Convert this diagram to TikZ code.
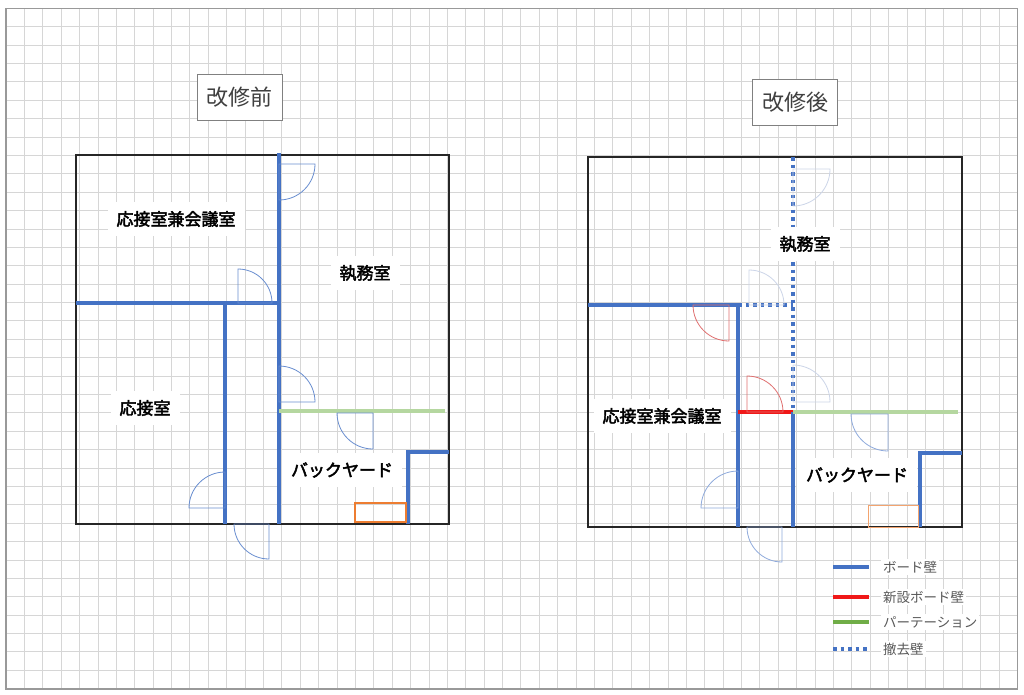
\documentclass[tikz,border=0pt]{standalone}
\usepackage{fontspec}
\newfontfamily\jp{Noto Sans CJK JP}
\newfontfamily\jpbold{Noto Sans CJK JP}[FakeBold=2.6]
\usetikzlibrary{positioning}
\definecolor{board}{HTML}{4472C4}
\definecolor{newboard}{HTML}{F01818}
\definecolor{part}{HTML}{B5D7A0}
\definecolor{partleg}{HTML}{70AD47}
\definecolor{shelf}{HTML}{ED7D31}
\definecolor{doorblue}{HTML}{8FAADC}
\definecolor{doorfaint}{HTML}{CCD5E8}
\definecolor{doorred}{HTML}{E07070}
\definecolor{gridgray}{HTML}{D6D6D6}
\definecolor{textgray}{HTML}{595959}

\newcommand\drawdoor[5][]{\draw[door,#1] (#2) -- ++(#3:#5) arc[start angle=#3, end angle=#4, radius=#5] -- cycle;}

\begin{document}
\begin{tikzpicture}[x=1pt,y=-1pt,
    gridline/.style={gridgray, line width=0.8pt},
    frame/.style={draw=gray!80, line width=1.2pt},
    outer/.style={draw=black!85, line width=2pt},
    wall/.style={board, line width=3.5pt},
    removed/.style={board, line width=3.5pt, dash pattern=on 3.5pt off 4pt},
    newwall/.style={newboard, line width=4pt},
    partition/.style={part, line width=4pt},
    door/.style={board!80, line width=0.8pt},
    room/.style={fill=white, inner sep=9pt, font=\jpbold\fontsize{17}{17}\selectfont},
    title/.style={draw=gray, fill=white, line width=0.8pt, text=black!75,
      minimum width=85pt, minimum height=46pt, inner sep=0pt,
      font=\jp\fontsize{22}{22}\selectfont},
    legtext/.style={fill=white, inner sep=2pt, text=textgray,
      font=\jp\fontsize{13.5}{13.5}\selectfont, anchor=west}]
\useasboundingbox (0,0) rectangle (1024,694);
\fill[white] (0,0) rectangle (1024,694);
% grid paper
\foreach \i in {1,...,54}
  \draw[gridline] ({6+18.387*\i},8.3) -- ({6+18.387*\i},689);
\foreach \j in {1,...,36}
  \draw[gridline] (6,{8.3+18.387*\j}) -- (1017.3,{8.3+18.387*\j});
\draw[frame] (6,8.3) rectangle (1017.3,689);

% before
\node[title] (before) at (239.5,97) {改修前};
\draw[outer] (76,155) rectangle (449,524);
\draw[wall] (279,153) -- (279,524);
\draw[wall] (76,303) -- (279,303);
\draw[wall] (225,303) -- (225,524);
\draw[partition] (279,411) -- (445,411);
\draw[wall] (449,452) -- (408,452) -- (408,524);
\draw[shelf, line width=2.5pt] (355,503) rectangle (406,522);
\drawdoor{279,164}{0}{-90}{36pt}
\drawdoor{238,303}{90}{0}{34pt}
\drawdoor{279,402}{90}{0}{36pt}
\drawdoor{373,413}{180}{270}{36pt}
\drawdoor{225,508}{90}{180}{36pt}
\drawdoor{269,524}{180}{270}{35pt}
\node[room] (meeting1) at (176,219) {応接室兼会議室};
\node[room] (office1) at (365,273) {執務室};
\node[room] (guest1) at (145,408) {応接室};
\node[room] (back1) at (342,470) {バックヤード};

% after
\node[title] (after) at (795,102) {改修後};
\draw[outer] (588,157) rectangle (962,527);
\draw[removed] (793,157) -- (793,411);
\draw[removed] (738,305) -- (793,305);
\draw[wall] (588,305) -- (738,305);
\draw[wall] (738,303.25) -- (738,527);
\draw[newwall] (738,412) -- (793,412);
\draw[wall] (793,412) -- (793,527);
\draw[partition] (793,412) -- (958,412);
\draw[wall] (962,453) -- (920,453) -- (920,527);
\draw[shelf!70, line width=0.8pt] (868,505) rectangle (918,527);
\drawdoor[doorfaint]{793,169}{0}{-90}{37pt}
\drawdoor[doorfaint]{749,305}{90}{0}{35pt}
\drawdoor[doorfaint]{793,402}{90}{0}{37pt}
\drawdoor[doorred]{729,305}{180}{270}{36pt}
\drawdoor[doorred]{747,412}{90}{0}{36pt}
\drawdoor[doorblue]{888,414}{180}{270}{37pt}
\drawdoor[doorblue]{738,508}{90}{180}{37pt}
\drawdoor[doorblue]{782,527}{180}{270}{35pt}
\node[room] (office2) at (805,244) {執務室};
\node[room] (meeting2) at (662,416) {応接室兼会議室};
\node[room] (back2) at (857,475) {バックヤード};

% legend
\coordinate (l1) at (869,567);
\coordinate (l2) at (869,597);
\coordinate (l3) at (869,622);
\coordinate (l4) at (869,649);
\draw[board, line width=4pt] (833,567) -- (l1);
\draw[newboard, line width=4pt] (833,597) -- (l2);
\draw[partleg, line width=4pt] (833,622) -- (l3);
\draw[removed] (833,649) -- (l4);
\node[legtext, right=12pt of l1] (leg1) {ボード壁};
\node[legtext, right=12pt of l2] (leg2) {新設ボード壁};
\node[legtext, right=12pt of l3] (leg3) {パーテーション};
\node[legtext, right=12pt of l4] (leg4) {撤去壁};
\end{tikzpicture}
\end{document}
